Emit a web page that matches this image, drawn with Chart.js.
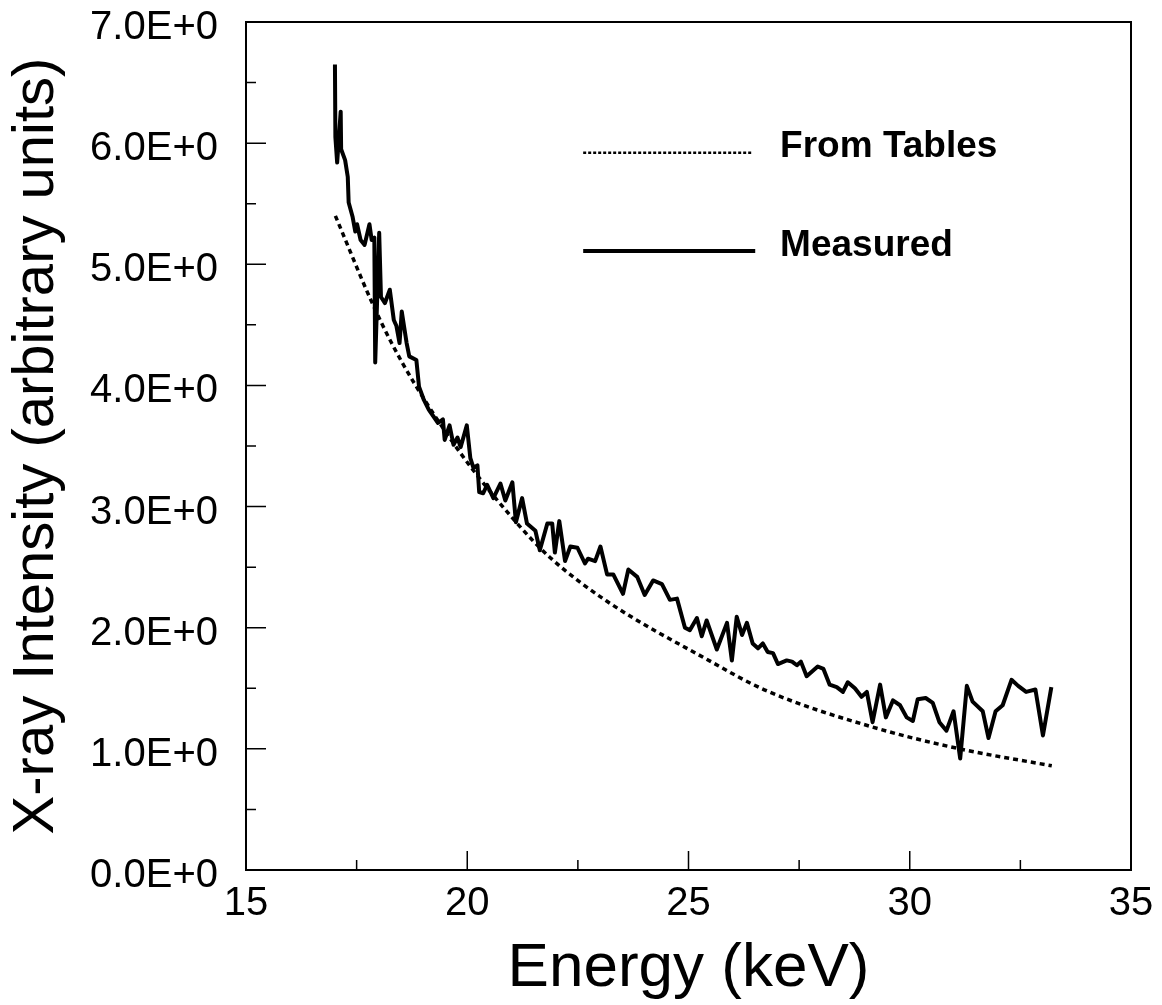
<!DOCTYPE html>
<html><head><meta charset="utf-8">
<script src="https://cdn.jsdelivr.net/npm/chart.js@4.4.1/dist/chart.umd.min.js"></script>
<style>html,body{margin:0;padding:0;background:#fff}#wrap{width:1162px;height:1005px}</style>
</head><body><div id="wrap"><canvas id="c" width="1162" height="1005"></canvas></div>
<script>
// ---- data ----
const measuredEnergy = [17.01,17.02,17.06,17.14,17.15,17.24,17.30,17.32,17.41,17.47,17.51,17.59,17.68,17.79,17.84,17.90,17.92,18.01,18.05,18.14,18.25,18.34,18.40,18.47,18.52,18.63,18.69,18.85,18.91,19.02,19.13,19.34,
 19.45,19.49,19.60,19.69,19.78,19.85,19.99,20.07,20.14,20.23,20.27,20.36,20.45,20.59,20.75,20.86,21.02,21.10,21.24,21.35,21.54,21.64,21.81,21.92,21.98,22.08,22.21,22.33,22.49,22.66,22.73,22.89,23.01,23.16,23.30,23.52,23.64,23.84,24.01,24.20,24.40,24.58,24.74,24.92,25.03,25.19,25.30,25.41,25.64,25.87,25.98,26.09,
 26.21,26.32,26.45,26.57,26.68,26.79,26.91,27.02,27.22,27.34,27.45,27.54,27.67,27.92,28.05,28.19,28.35,28.49,28.60,28.76,28.91,29.03,29.16,29.33,29.46,29.62,29.78,29.93,30.07,30.18,30.36,30.52,30.67,30.83,30.99,31.14,31.29,31.42,31.65,31.78,31.94,32.10,32.30,32.45,32.63,32.84,33.01,33.20];
const measuredIntensity = [6.65,6.05,5.84,6.26,5.95,5.86,5.72,5.51,5.39,5.27,5.33,5.20,5.16,5.33,5.20,5.22,4.19,5.26,4.73,4.68,4.79,4.54,4.49,4.35,4.61,4.35,4.24,4.21,3.99,3.88,3.80,3.69,
 3.72,3.55,3.67,3.51,3.57,3.49,3.67,3.40,3.32,3.34,3.12,3.11,3.18,3.07,3.19,3.05,3.20,2.87,3.07,2.86,2.80,2.64,2.86,2.86,2.62,2.88,2.55,2.67,2.66,2.53,2.57,2.55,2.67,2.44,2.44,2.28,2.48,2.42,2.27,2.39,2.36,2.23,2.24,2.00,1.98,2.08,1.93,2.06,1.82,2.04,1.73,2.09,
 1.94,2.04,1.87,1.83,1.87,1.80,1.79,1.70,1.73,1.72,1.69,1.72,1.60,1.68,1.66,1.53,1.51,1.47,1.55,1.50,1.43,1.47,1.22,1.53,1.26,1.40,1.36,1.26,1.23,1.41,1.42,1.38,1.22,1.15,1.31,0.92,1.52,1.39,1.31,1.09,1.31,1.36,1.57,1.52,1.47,1.49,1.11,1.51];
const tablesEnergy = [17.02,17.84,18.29,18.80,19.85,21.13,21.87,23.15,25.41,26.76,29.16,31.13,33.21];
const tablesIntensity = [5.40,4.69,4.35,4.02,3.44,2.86,2.58,2.22,1.74,1.48,1.18,1.00,0.86];
const seriesNames = ['From Tables','Measured'];
const xTickValues = [15,20,25,30,35];
const xMinorTicks = [17.5,22.5,27.5,32.5];
const yTickValues = [0,1,2,3,4,5,6,7];
const yMinorTicks = [0.5,1.5,2.5,3.5,4.5,5.5,6.5];
const legendAnchor = {x0:22.62, x1:26.44, text:27.07, y:[5.92,5.11]};

const FONT = '"Liberation Sans", Arial, Helvetica, sans-serif';
Chart.defaults.font.family = FONT;
Chart.defaults.color = '#000';

const toXY = (xs, ys) => xs.map((x,i)=>({x:x, y:ys[i]}));
const noPad = s => { s.paddingTop=0; s.paddingBottom=0; s.paddingLeft=0; s.paddingRight=0; };

const framePlugin = {
  id:'frame',
  afterDatasetsDraw(chart){
    const {ctx, chartArea:a, scales:{x,y}} = chart;
    ctx.save();
    ctx.strokeStyle='#000'; ctx.lineWidth=2;
    ctx.strokeRect(a.left, a.top, a.right-a.left, a.bottom-a.top);
    ctx.lineWidth=1.5;
    ctx.beginPath();
    xTickValues.slice(1,-1).forEach(v=>{const p=x.getPixelForValue(v); ctx.moveTo(p,a.bottom); ctx.lineTo(p,a.bottom-19);});
    xMinorTicks.forEach(v=>{const p=x.getPixelForValue(v); ctx.moveTo(p,a.bottom); ctx.lineTo(p,a.bottom-10);});
    yTickValues.slice(1,-1).forEach(v=>{const p=y.getPixelForValue(v); ctx.moveTo(a.left,p); ctx.lineTo(a.left+20,p);});
    yMinorTicks.forEach(v=>{const p=y.getPixelForValue(v); ctx.moveTo(a.left,p); ctx.lineTo(a.left+10,p);});
    ctx.stroke();
    // legend
    const lx0=x.getPixelForValue(legendAnchor.x0), lx1=x.getPixelForValue(legendAnchor.x1), tx=x.getPixelForValue(legendAnchor.text);
    const ly=legendAnchor.y.map(v=>y.getPixelForValue(v));
    ctx.beginPath(); ctx.setLineDash([3,2]); ctx.lineWidth=2.5;
    ctx.moveTo(lx0,ly[0]); ctx.lineTo(lx1,ly[0]); ctx.stroke();
    ctx.beginPath(); ctx.setLineDash([]); ctx.lineWidth=4;
    ctx.moveTo(lx0,ly[1]); ctx.lineTo(lx1+3,ly[1]); ctx.stroke();
    ctx.fillStyle='#000'; ctx.font='bold 37px '+FONT; ctx.textBaseline='middle'; ctx.textAlign='left';
    ctx.fillText(seriesNames[0], tx, ly[0]-6);
    ctx.fillText(seriesNames[1], tx, ly[1]-5);
    ctx.restore();
  }
};

new Chart(document.getElementById('c'), {
  type:'line',
  data:{datasets:[
    {label:seriesNames[0], data:toXY(tablesEnergy,tablesIntensity), borderColor:'#000', borderWidth:3.5, borderDash:[5,4], pointRadius:0, cubicInterpolationMode:'monotone', fill:false},
    {label:seriesNames[1], data:toXY(measuredEnergy,measuredIntensity), borderColor:'#000', borderWidth:4, pointRadius:0, tension:0, borderJoinStyle:'round', fill:false}
  ]},
  options:{
    responsive:false, animation:false, devicePixelRatio:1,
    layout:{padding:{left:0,right:31,top:22,bottom:0}},
    plugins:{legend:{display:false}, tooltip:{enabled:false}},
    scales:{
      x:{type:'linear', min:15, max:35,
        afterBuildTicks:s=>{s.ticks=xTickValues.map(v=>({value:v}));},
        afterFit:s=>{s.height=135; noPad(s);},
        grid:{display:false, drawTicks:false}, border:{display:false},
        ticks:{font:{size:40}, color:'#000', padding:10, maxRotation:0, callback:v=>String(v)},
        title:{display:true, text:'Energy (keV)', font:{size:62, lineHeight:1}, color:'#000', padding:{top:0,bottom:5}}
      },
      y:{type:'linear', min:0, max:7,
        afterBuildTicks:s=>{s.ticks=yTickValues.map(v=>({value:v}));},
        afterFit:s=>{s.width=246; noPad(s);},
        grid:{display:false, drawTicks:false}, border:{display:false},
        ticks:{font:{size:40}, color:'#000', padding:28, labelOffset:6, callback:v=>Number(v).toFixed(1)+'E+0'},
        title:{display:true, text:'X-ray Intensity (arbitrary units)', font:{size:58, lineHeight:1.2}, color:'#000', padding:{top:2,bottom:0}}
      }
    }
  },
  plugins:[framePlugin]
});
</script></body></html>
